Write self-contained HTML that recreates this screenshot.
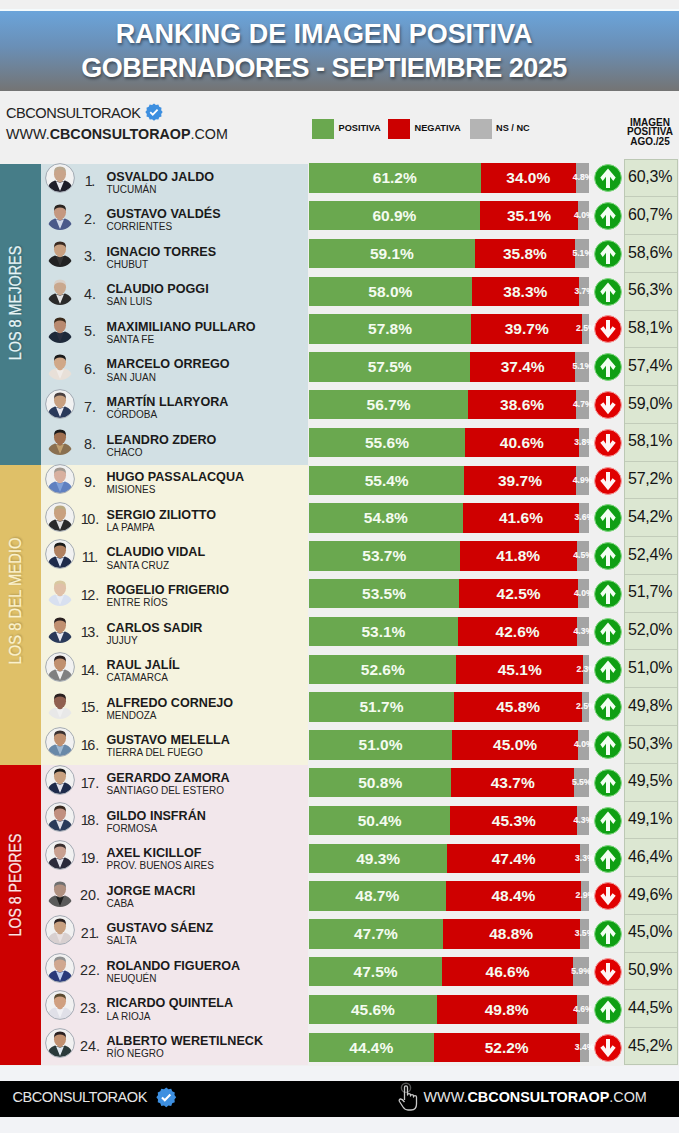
<!DOCTYPE html>
<html><head><meta charset="utf-8"><style>
*{margin:0;padding:0;box-sizing:border-box}
html,body{width:679px;height:1133px;overflow:hidden}
body{position:relative;background:#f0f0f0;font-family:"Liberation Sans",sans-serif}
.abs{position:absolute}
.hdr{position:absolute;left:0;top:11px;width:679px;height:80px;background:linear-gradient(#6ba4da 0%,#6a8fb6 45%,#747474 100%)}
.ttl{position:absolute;left:0;width:648px;text-align:center;color:#fff;font-weight:bold;font-size:27px;line-height:30px;white-space:nowrap;text-shadow:1px 2px 3px rgba(0,0,0,.45)}
.brand{position:absolute;left:6px;font-size:15px;color:#222;white-space:nowrap;line-height:18px}
.leg{position:absolute;top:118.5px;width:22px;height:20.5px}
.legt{position:absolute;top:122px;font-size:9.2px;font-weight:bold;color:#111;line-height:12px;white-space:nowrap}
.glabel{position:absolute;left:-84.5px;width:200px;height:20px;margin-top:-10px;font-size:16px;line-height:20px;text-align:center;white-space:nowrap;transform:rotate(-90deg);-webkit-text-stroke:0.25px currentColor;text-shadow:1px 1px 2px rgba(0,0,0,.25)}
.num{position:absolute;left:75px;width:30px;text-align:center;font-size:14.4px;color:#2a2a2a;line-height:16px}
.n1{letter-spacing:-1.3px}
.name{position:absolute;left:106.5px;font-size:12.6px;font-weight:bold;color:#1a1a1a;line-height:14px;white-space:nowrap}
.prov{position:absolute;left:106.5px;font-size:10px;color:#222;line-height:12px;white-space:nowrap}
.bar{height:29.6px;color:#f4fbf0;font-weight:bold;font-size:15.5px;line-height:29.6px;text-align:center;white-space:nowrap}
.small{width:30px;height:29.6px;line-height:29.6px;text-align:center;font-size:8.6px;font-weight:bold;color:rgba(255,255,255,.95);-webkit-text-stroke:0.2px rgba(255,255,255,.8)}
.cbox{position:absolute;left:624px;top:159.1px;width:53.5px;height:906.2px;background:#dce7d2;border:1px solid #bcc8b4}
.cline{left:625px;width:51.5px;height:1px;background:#c2ccba}
.cell{left:624px;width:53.5px;font-size:16px;letter-spacing:-0.25px;color:#141414;line-height:35.5px;padding-left:4px;white-space:nowrap}
.foot{position:absolute;left:0;top:1080.5px;width:679px;height:36.3px;background:#000}
</style></head><body>
<div class="abs" style="left:0;top:9.3px;width:679px;height:2px;background:#f4fbfd"></div>
<div class="hdr"></div>
<div class="ttl" style="top:18.5px;letter-spacing:-0.05px">RANKING DE IMAGEN POSITIVA</div>
<div class="ttl" style="top:52.5px;letter-spacing:-0.52px">GOBERNADORES - SEPTIEMBRE 2025</div>
<div class="brand" style="top:104px;font-size:14.6px;letter-spacing:-0.5px">CBCONSULTORAOK</div>
<svg class="abs" style="left:145px;top:103px" width="18" height="18" viewBox="0 0 24 24"><path fill="#3d8fe0" d="M12 0.5l2.6 2 3.2-.4 1.2 3 3 1.2-.4 3.2 2 2.6-2 2.6.4 3.2-3 1.2-1.2 3-3.2-.4-2.6 2-2.6-2-3.2.4-1.2-3-3-1.2.4-3.2-2-2.6 2-2.6-.4-3.2 3-1.2 1.2-3 3.2.4z"/><path d="M7 12.3l3.3 3.3 6.5-6.8" fill="none" stroke="#fff" stroke-width="2.4"/></svg>
<div class="brand" style="top:125px;font-size:14.3px">WWW.<b>CBCONSULTORAOP</b>.COM</div>
<div class="leg" style="left:312px;background:#6aa84f"></div><div class="legt" style="left:338.5px">POSITIVA</div>
<div class="leg" style="left:388px;background:#cc0000"></div><div class="legt" style="left:414.5px">NEGATIVA</div>
<div class="leg" style="left:470px;background:#b4b4b4"></div><div class="legt" style="left:496px">NS / NC</div>
<div class="abs" style="left:610px;top:117.5px;width:80px;text-align:center;font-size:10px;font-weight:bold;line-height:9.7px;color:#111">IMAGEN<br>POSITIVA<br>AGO./25</div>
<div class="cbox"></div>
<div class="abs" style="left:0;top:164px;width:41px;height:300.5px;background:#467d88"></div>
<div class="abs" style="left:41px;top:164px;width:266.7px;height:300.5px;background:#d2e0e4"></div>
<div class="glabel" style="top:302.8px;color:#e6f4f6;transform:rotate(-90deg) scaleX(0.902)">LOS 8 MEJORES</div>
<div class="abs" style="left:0;top:464.5px;width:41px;height:300.2px;background:#dfc068"></div>
<div class="abs" style="left:41px;top:464.5px;width:266.7px;height:300.2px;background:#f5f3df"></div>
<div class="glabel" style="top:600.8px;color:#fbf1cc;transform:rotate(-90deg) scaleX(0.926)">LOS 8 DEL MEDIO</div>
<div class="abs" style="left:0;top:764.7px;width:41px;height:300.8px;background:#cc0000"></div>
<div class="abs" style="left:41px;top:764.7px;width:266.7px;height:300.8px;background:#f2e7eb"></div>
<div class="glabel" style="top:884.9px;color:#fde6e6;transform:rotate(-90deg) scaleX(0.882)">LOS 8 PEORES</div>
<svg class="abs" style="left:45px;top:163.3px" width="30" height="30" viewBox="0 0 30 30"><defs><clipPath id="c0"><circle cx="15" cy="15" r="14"/></clipPath></defs><g clip-path="url(#c0)"><circle cx="15" cy="15" r="14" fill="#f1f1f1"/><rect x="12.5" y="14" width="5" height="6" fill="#c9a48a"/><path d="M1.5 31 Q2 19.5 10 17.5 L15 19.5 L20 17.5 Q28 19.5 28.5 31 Z" fill="#1e1e2a"/><path d="M11 18.2 L15 28 L19 18.2 L15 19.8 Z" fill="#e8e8ee"/><ellipse cx="15" cy="11.2" rx="6" ry="7" fill="#c9a48a"/><path d="M9 10 Q8.6 3.6 15 3.6 Q21.4 3.6 21 10 Q20 6.5 15 6.5 Q10 6.5 9 10 Z" fill="#b8a890"/></g><circle cx="15" cy="15" r="14.4" fill="none" stroke="#a4abb4" stroke-width="1"/></svg>
<div class="num" style="top:173.1px"><span class="n1">1</span>.</div>
<div class="name" style="top:169.5px">OSVALDO JALDO</div>
<div class="prov" style="top:183.6px">TUCUMÁN</div>
<div class="abs" style="top:163.1px;left:309px;width:280.4px;height:29.6px;background:#a4a4a4"></div>
<div class="abs" style="top:163.1px;left:309px;width:266.94px;height:29.6px;background:#cf0000"></div>
<div class="abs bar" style="top:163.1px;left:309px;width:171.6px;background:#6aa84f">61.2%</div>
<div class="abs bar" style="top:163.1px;left:480.6px;width:95.34px">34.0%</div>
<div class="abs small" style="top:163.1px;left:567.67px">4.8%</div>
<svg class="abs" style="left:594px;top:164.1px" width="28" height="28" viewBox="0 0 28 28"><circle cx="14" cy="14" r="13.4" fill="#0f9f14" stroke="#7fd77f" stroke-width="1"/><path d="M14 4.6 L21.7 13.5 L19.3 17 L16 12.8 L16 24.1 L12 24.1 L12 12.8 L8.7 17 L6.3 13.5 Z" fill="#f2fff2"/></svg>
<div class="abs cell" style="top:159.1px;height:37.76px">60,3%</div>
<svg class="abs" style="left:45px;top:200.89px" width="30" height="30" viewBox="0 0 30 30"><defs><clipPath id="c1"><circle cx="15" cy="15" r="14"/></clipPath></defs><g clip-path="url(#c1)"><rect x="12.5" y="14" width="5" height="6" fill="#c49880"/><path d="M1.5 31 Q2 19.5 10 17.5 L15 19.5 L20 17.5 Q28 19.5 28.5 31 Z" fill="#4a5a8a"/><path d="M11 18.2 L15 28 L19 18.2 L15 19.8 Z" fill="#d0d8e8"/><ellipse cx="15" cy="11.2" rx="6" ry="7" fill="#c49880"/><path d="M9 10 Q8.6 3.6 15 3.6 Q21.4 3.6 21 10 Q20 6.5 15 6.5 Q10 6.5 9 10 Z" fill="#2a2420"/></g></svg>
<div class="num" style="top:210.69px">2.</div>
<div class="name" style="top:207.09px">GUSTAVO VALDÉS</div>
<div class="prov" style="top:221.19px">CORRIENTES</div>
<div class="abs" style="top:200.9px;left:309px;width:280.4px;height:29.6px;background:#a4a4a4"></div>
<div class="abs" style="top:200.9px;left:309px;width:269.18px;height:29.6px;background:#cf0000"></div>
<div class="abs bar" style="top:200.9px;left:309px;width:170.76px;background:#6aa84f">60.9%</div>
<div class="abs bar" style="top:200.9px;left:479.76px;width:98.42px">35.1%</div>
<div class="abs small" style="top:200.9px;left:568.79px">4.0%</div>
<svg class="abs" style="left:594px;top:201.9px" width="28" height="28" viewBox="0 0 28 28"><circle cx="14" cy="14" r="13.4" fill="#0f9f14" stroke="#7fd77f" stroke-width="1"/><path d="M14 4.6 L21.7 13.5 L19.3 17 L16 12.8 L16 24.1 L12 24.1 L12 12.8 L8.7 17 L6.3 13.5 Z" fill="#f2fff2"/></svg>
<div class="abs cell" style="top:196.86px;height:37.76px">60,7%</div>
<div class="abs cline" style="top:196.36px"></div>
<svg class="abs" style="left:45px;top:238.48px" width="30" height="30" viewBox="0 0 30 30"><defs><clipPath id="c2"><circle cx="15" cy="15" r="14"/></clipPath></defs><g clip-path="url(#c2)"><rect x="12.5" y="14" width="5" height="6" fill="#c8a080"/><path d="M1.5 31 Q2 19.5 10 17.5 L15 19.5 L20 17.5 Q28 19.5 28.5 31 Z" fill="#222222"/><path d="M11 18.2 L15 28 L19 18.2 L15 19.8 Z" fill="#333333"/><ellipse cx="15" cy="11.2" rx="6" ry="7" fill="#c8a080"/><path d="M9 10 Q8.6 3.6 15 3.6 Q21.4 3.6 21 10 Q20 6.5 15 6.5 Q10 6.5 9 10 Z" fill="#3a2a20"/></g></svg>
<div class="num" style="top:248.28px">3.</div>
<div class="name" style="top:244.68px">IGNACIO TORRES</div>
<div class="prov" style="top:258.78px">CHUBUT</div>
<div class="abs" style="top:238.7px;left:309px;width:280.4px;height:29.6px;background:#a4a4a4"></div>
<div class="abs" style="top:238.7px;left:309px;width:266.1px;height:29.6px;background:#cf0000"></div>
<div class="abs bar" style="top:238.7px;left:309px;width:165.72px;background:#6aa84f">59.1%</div>
<div class="abs bar" style="top:238.7px;left:474.72px;width:100.38px">35.8%</div>
<div class="abs small" style="top:238.7px;left:567.25px">5.1%</div>
<svg class="abs" style="left:594px;top:239.7px" width="28" height="28" viewBox="0 0 28 28"><circle cx="14" cy="14" r="13.4" fill="#0f9f14" stroke="#7fd77f" stroke-width="1"/><path d="M14 4.6 L21.7 13.5 L19.3 17 L16 12.8 L16 24.1 L12 24.1 L12 12.8 L8.7 17 L6.3 13.5 Z" fill="#f2fff2"/></svg>
<div class="abs cell" style="top:234.62px;height:37.76px">58,6%</div>
<div class="abs cline" style="top:234.12px"></div>
<svg class="abs" style="left:45px;top:276.07px" width="30" height="30" viewBox="0 0 30 30"><defs><clipPath id="c3"><circle cx="15" cy="15" r="14"/></clipPath></defs><g clip-path="url(#c3)"><rect x="12.5" y="14" width="5" height="6" fill="#c9a88e"/><path d="M1.5 31 Q2 19.5 10 17.5 L15 19.5 L20 17.5 Q28 19.5 28.5 31 Z" fill="#2a2a2a"/><path d="M11 18.2 L15 28 L19 18.2 L15 19.8 Z" fill="#e0e0e0"/><ellipse cx="15" cy="11.2" rx="6" ry="7" fill="#c9a88e"/><path d="M9 10 Q8.6 3.6 15 3.6 Q21.4 3.6 21 10 Q20 6.5 15 6.5 Q10 6.5 9 10 Z" fill="#d8d0c8"/></g></svg>
<div class="num" style="top:285.87px">4.</div>
<div class="name" style="top:282.27px">CLAUDIO POGGI</div>
<div class="prov" style="top:296.37px">SAN LUIS</div>
<div class="abs" style="top:276.5px;left:309px;width:280.4px;height:29.6px;background:#a4a4a4"></div>
<div class="abs" style="top:276.5px;left:309px;width:270.03px;height:29.6px;background:#cf0000"></div>
<div class="abs bar" style="top:276.5px;left:309px;width:162.63px;background:#6aa84f">58.0%</div>
<div class="abs bar" style="top:276.5px;left:471.63px;width:107.39px">38.3%</div>
<div class="abs small" style="top:276.5px;left:569.21px">3.7%</div>
<svg class="abs" style="left:594px;top:277.5px" width="28" height="28" viewBox="0 0 28 28"><circle cx="14" cy="14" r="13.4" fill="#0f9f14" stroke="#7fd77f" stroke-width="1"/><path d="M14 4.6 L21.7 13.5 L19.3 17 L16 12.8 L16 24.1 L12 24.1 L12 12.8 L8.7 17 L6.3 13.5 Z" fill="#f2fff2"/></svg>
<div class="abs cell" style="top:272.38px;height:37.76px">56,3%</div>
<div class="abs cline" style="top:271.88px"></div>
<svg class="abs" style="left:45px;top:313.66px" width="30" height="30" viewBox="0 0 30 30"><defs><clipPath id="c4"><circle cx="15" cy="15" r="14"/></clipPath></defs><g clip-path="url(#c4)"><rect x="12.5" y="14" width="5" height="6" fill="#b88a70"/><path d="M1.5 31 Q2 19.5 10 17.5 L15 19.5 L20 17.5 Q28 19.5 28.5 31 Z" fill="#1e2a3a"/><path d="M11 18.2 L15 28 L19 18.2 L15 19.8 Z" fill="#2a3040"/><ellipse cx="15" cy="11.2" rx="6" ry="7" fill="#b88a70"/><path d="M9 10 Q8.6 3.6 15 3.6 Q21.4 3.6 21 10 Q20 6.5 15 6.5 Q10 6.5 9 10 Z" fill="#3a2a1a"/></g></svg>
<div class="num" style="top:323.46px">5.</div>
<div class="name" style="top:319.86px">MAXIMILIANO PULLARO</div>
<div class="prov" style="top:333.96px">SANTA FE</div>
<div class="abs" style="top:314.3px;left:309px;width:280.4px;height:29.6px;background:#a4a4a4"></div>
<div class="abs" style="top:314.3px;left:309px;width:273.39px;height:29.6px;background:#cf0000"></div>
<div class="abs bar" style="top:314.3px;left:309px;width:162.07px;background:#6aa84f">57.8%</div>
<div class="abs bar" style="top:314.3px;left:471.07px;width:111.32px">39.7%</div>
<div class="abs small" style="top:314.3px;left:570.89px">2.5%</div>
<svg class="abs" style="left:594px;top:315.3px" width="28" height="28" viewBox="0 0 28 28"><circle cx="14" cy="14" r="13.4" fill="#e00000" stroke="#f59a9a" stroke-width="1"/><path d="M14 23.3 L21.7 13.8 L18.6 11.2 L16 14.8 L16 5 L12 5 L12 14.8 L9.4 11.2 L6.3 13.8 Z" fill="#fff4f4"/></svg>
<div class="abs cell" style="top:310.14px;height:37.76px">58,1%</div>
<div class="abs cline" style="top:309.64px"></div>
<svg class="abs" style="left:45px;top:351.25px" width="30" height="30" viewBox="0 0 30 30"><defs><clipPath id="c5"><circle cx="15" cy="15" r="14"/></clipPath></defs><g clip-path="url(#c5)"><rect x="12.5" y="14" width="5" height="6" fill="#d0a888"/><path d="M1.5 31 Q2 19.5 10 17.5 L15 19.5 L20 17.5 Q28 19.5 28.5 31 Z" fill="#e8e0d8"/><path d="M11 18.2 L15 28 L19 18.2 L15 19.8 Z" fill="#f0ece8"/><ellipse cx="15" cy="11.2" rx="6" ry="7" fill="#d0a888"/><path d="M9 10 Q8.6 3.6 15 3.6 Q21.4 3.6 21 10 Q20 6.5 15 6.5 Q10 6.5 9 10 Z" fill="#1a1a1a"/></g></svg>
<div class="num" style="top:361.05px">6.</div>
<div class="name" style="top:357.45px">MARCELO ORREGO</div>
<div class="prov" style="top:371.55px">SAN JUAN</div>
<div class="abs" style="top:352.1px;left:309px;width:280.4px;height:29.6px;background:#a4a4a4"></div>
<div class="abs" style="top:352.1px;left:309px;width:266.1px;height:29.6px;background:#cf0000"></div>
<div class="abs bar" style="top:352.1px;left:309px;width:161.23px;background:#6aa84f">57.5%</div>
<div class="abs bar" style="top:352.1px;left:470.23px;width:104.87px">37.4%</div>
<div class="abs small" style="top:352.1px;left:567.25px">5.1%</div>
<svg class="abs" style="left:594px;top:353.1px" width="28" height="28" viewBox="0 0 28 28"><circle cx="14" cy="14" r="13.4" fill="#0f9f14" stroke="#7fd77f" stroke-width="1"/><path d="M14 4.6 L21.7 13.5 L19.3 17 L16 12.8 L16 24.1 L12 24.1 L12 12.8 L8.7 17 L6.3 13.5 Z" fill="#f2fff2"/></svg>
<div class="abs cell" style="top:347.9px;height:37.76px">57,4%</div>
<div class="abs cline" style="top:347.4px"></div>
<svg class="abs" style="left:45px;top:388.84px" width="30" height="30" viewBox="0 0 30 30"><defs><clipPath id="c6"><circle cx="15" cy="15" r="14"/></clipPath></defs><g clip-path="url(#c6)"><circle cx="15" cy="15" r="14" fill="#f1f1f1"/><rect x="12.5" y="14" width="5" height="6" fill="#c8a080"/><path d="M1.5 31 Q2 19.5 10 17.5 L15 19.5 L20 17.5 Q28 19.5 28.5 31 Z" fill="#2a3a5a"/><path d="M11 18.2 L15 28 L19 18.2 L15 19.8 Z" fill="#e8e8f0"/><ellipse cx="15" cy="11.2" rx="6" ry="7" fill="#c8a080"/><path d="M9 10 Q8.6 3.6 15 3.6 Q21.4 3.6 21 10 Q20 6.5 15 6.5 Q10 6.5 9 10 Z" fill="#4a4040"/></g><circle cx="15" cy="15" r="14.4" fill="none" stroke="#a4abb4" stroke-width="1"/></svg>
<div class="num" style="top:398.64px">7.</div>
<div class="name" style="top:395.04px">MARTÍN LLARYORA</div>
<div class="prov" style="top:409.14px">CÓRDOBA</div>
<div class="abs" style="top:389.9px;left:309px;width:280.4px;height:29.6px;background:#a4a4a4"></div>
<div class="abs" style="top:389.9px;left:309px;width:267.22px;height:29.6px;background:#cf0000"></div>
<div class="abs bar" style="top:389.9px;left:309px;width:158.99px;background:#6aa84f">56.7%</div>
<div class="abs bar" style="top:389.9px;left:467.99px;width:108.23px">38.6%</div>
<div class="abs small" style="top:389.9px;left:567.81px">4.7%</div>
<svg class="abs" style="left:594px;top:390.9px" width="28" height="28" viewBox="0 0 28 28"><circle cx="14" cy="14" r="13.4" fill="#e00000" stroke="#f59a9a" stroke-width="1"/><path d="M14 23.3 L21.7 13.8 L18.6 11.2 L16 14.8 L16 5 L12 5 L12 14.8 L9.4 11.2 L6.3 13.8 Z" fill="#fff4f4"/></svg>
<div class="abs cell" style="top:385.66px;height:37.76px">59,0%</div>
<div class="abs cline" style="top:385.16px"></div>
<svg class="abs" style="left:45px;top:426.43px" width="30" height="30" viewBox="0 0 30 30"><defs><clipPath id="c7"><circle cx="15" cy="15" r="14"/></clipPath></defs><g clip-path="url(#c7)"><rect x="12.5" y="14" width="5" height="6" fill="#a07050"/><path d="M1.5 31 Q2 19.5 10 17.5 L15 19.5 L20 17.5 Q28 19.5 28.5 31 Z" fill="#8a7050"/><path d="M11 18.2 L15 28 L19 18.2 L15 19.8 Z" fill="#c0a070"/><ellipse cx="15" cy="11.2" rx="6" ry="7" fill="#a07050"/><path d="M9 10 Q8.6 3.6 15 3.6 Q21.4 3.6 21 10 Q20 6.5 15 6.5 Q10 6.5 9 10 Z" fill="#1a1a1a"/></g></svg>
<div class="num" style="top:436.23px">8.</div>
<div class="name" style="top:432.63px">LEANDRO ZDERO</div>
<div class="prov" style="top:446.73px">CHACO</div>
<div class="abs" style="top:427.7px;left:309px;width:280.4px;height:29.6px;background:#a4a4a4"></div>
<div class="abs" style="top:427.7px;left:309px;width:269.74px;height:29.6px;background:#cf0000"></div>
<div class="abs bar" style="top:427.7px;left:309px;width:155.9px;background:#6aa84f">55.6%</div>
<div class="abs bar" style="top:427.7px;left:464.9px;width:113.84px">40.6%</div>
<div class="abs small" style="top:427.7px;left:569.07px">3.8%</div>
<svg class="abs" style="left:594px;top:428.7px" width="28" height="28" viewBox="0 0 28 28"><circle cx="14" cy="14" r="13.4" fill="#e00000" stroke="#f59a9a" stroke-width="1"/><path d="M14 23.3 L21.7 13.8 L18.6 11.2 L16 14.8 L16 5 L12 5 L12 14.8 L9.4 11.2 L6.3 13.8 Z" fill="#fff4f4"/></svg>
<div class="abs cell" style="top:423.42px;height:37.76px">58,1%</div>
<div class="abs cline" style="top:422.92px"></div>
<svg class="abs" style="left:45px;top:464.02px" width="30" height="30" viewBox="0 0 30 30"><defs><clipPath id="c8"><circle cx="15" cy="15" r="14"/></clipPath></defs><g clip-path="url(#c8)"><circle cx="15" cy="15" r="14" fill="#f1f1f1"/><rect x="12.5" y="14" width="5" height="6" fill="#d8b0a0"/><path d="M1.5 31 Q2 19.5 10 17.5 L15 19.5 L20 17.5 Q28 19.5 28.5 31 Z" fill="#6080c0"/><path d="M11 18.2 L15 28 L19 18.2 L15 19.8 Z" fill="#80a0d8"/><ellipse cx="15" cy="11.2" rx="6" ry="7" fill="#d8b0a0"/><path d="M9 10 Q8.6 3.6 15 3.6 Q21.4 3.6 21 10 Q20 6.5 15 6.5 Q10 6.5 9 10 Z" fill="#a09890"/></g><circle cx="15" cy="15" r="14.4" fill="none" stroke="#a4abb4" stroke-width="1"/></svg>
<div class="num" style="top:473.82px">9.</div>
<div class="name" style="top:470.22px">HUGO PASSALACQUA</div>
<div class="prov" style="top:484.32px">MISIONES</div>
<div class="abs" style="top:465.5px;left:309px;width:280.4px;height:29.6px;background:#a4a4a4"></div>
<div class="abs" style="top:465.5px;left:309px;width:266.66px;height:29.6px;background:#cf0000"></div>
<div class="abs bar" style="top:465.5px;left:309px;width:155.34px;background:#6aa84f">55.4%</div>
<div class="abs bar" style="top:465.5px;left:464.34px;width:111.32px">39.7%</div>
<div class="abs small" style="top:465.5px;left:567.53px">4.9%</div>
<svg class="abs" style="left:594px;top:466.5px" width="28" height="28" viewBox="0 0 28 28"><circle cx="14" cy="14" r="13.4" fill="#e00000" stroke="#f59a9a" stroke-width="1"/><path d="M14 23.3 L21.7 13.8 L18.6 11.2 L16 14.8 L16 5 L12 5 L12 14.8 L9.4 11.2 L6.3 13.8 Z" fill="#fff4f4"/></svg>
<div class="abs cell" style="top:461.18px;height:37.76px">57,2%</div>
<div class="abs cline" style="top:460.68px"></div>
<svg class="abs" style="left:45px;top:501.61px" width="30" height="30" viewBox="0 0 30 30"><defs><clipPath id="c9"><circle cx="15" cy="15" r="14"/></clipPath></defs><g clip-path="url(#c9)"><circle cx="15" cy="15" r="14" fill="#f1f1f1"/><rect x="12.5" y="14" width="5" height="6" fill="#c8a080"/><path d="M1.5 31 Q2 19.5 10 17.5 L15 19.5 L20 17.5 Q28 19.5 28.5 31 Z" fill="#2a2a2a"/><path d="M11 18.2 L15 28 L19 18.2 L15 19.8 Z" fill="#e0e0e0"/><ellipse cx="15" cy="11.2" rx="6" ry="7" fill="#c8a080"/><path d="M9 10 Q8.6 3.6 15 3.6 Q21.4 3.6 21 10 Q20 6.5 15 6.5 Q10 6.5 9 10 Z" fill="#b8a880"/></g><circle cx="15" cy="15" r="14.4" fill="none" stroke="#a4abb4" stroke-width="1"/></svg>
<div class="num" style="top:511.41px"><span class="n1">1</span>0.</div>
<div class="name" style="top:507.81px">SERGIO ZILIOTTO</div>
<div class="prov" style="top:521.91px">LA PAMPA</div>
<div class="abs" style="top:503.3px;left:309px;width:280.4px;height:29.6px;background:#a4a4a4"></div>
<div class="abs" style="top:503.3px;left:309px;width:270.31px;height:29.6px;background:#cf0000"></div>
<div class="abs bar" style="top:503.3px;left:309px;width:153.66px;background:#6aa84f">54.8%</div>
<div class="abs bar" style="top:503.3px;left:462.66px;width:116.65px">41.6%</div>
<div class="abs small" style="top:503.3px;left:569.35px">3.6%</div>
<svg class="abs" style="left:594px;top:504.3px" width="28" height="28" viewBox="0 0 28 28"><circle cx="14" cy="14" r="13.4" fill="#0f9f14" stroke="#7fd77f" stroke-width="1"/><path d="M14 4.6 L21.7 13.5 L19.3 17 L16 12.8 L16 24.1 L12 24.1 L12 12.8 L8.7 17 L6.3 13.5 Z" fill="#f2fff2"/></svg>
<div class="abs cell" style="top:498.94px;height:37.76px">54,2%</div>
<div class="abs cline" style="top:498.44px"></div>
<svg class="abs" style="left:45px;top:539.2px" width="30" height="30" viewBox="0 0 30 30"><defs><clipPath id="c10"><circle cx="15" cy="15" r="14"/></clipPath></defs><g clip-path="url(#c10)"><circle cx="15" cy="15" r="14" fill="#f1f1f1"/><rect x="12.5" y="14" width="5" height="6" fill="#b08060"/><path d="M1.5 31 Q2 19.5 10 17.5 L15 19.5 L20 17.5 Q28 19.5 28.5 31 Z" fill="#1e2a4a"/><path d="M11 18.2 L15 28 L19 18.2 L15 19.8 Z" fill="#d8e0f0"/><ellipse cx="15" cy="11.2" rx="6" ry="7" fill="#b08060"/><path d="M9 10 Q8.6 3.6 15 3.6 Q21.4 3.6 21 10 Q20 6.5 15 6.5 Q10 6.5 9 10 Z" fill="#1a1a1a"/></g><circle cx="15" cy="15" r="14.4" fill="none" stroke="#a4abb4" stroke-width="1"/></svg>
<div class="num" style="top:549px"><span class="n1">1</span><span class="n1">1</span>.</div>
<div class="name" style="top:545.4px">CLAUDIO VIDAL</div>
<div class="prov" style="top:559.5px">SANTA CRUZ</div>
<div class="abs" style="top:541.1px;left:309px;width:280.4px;height:29.6px;background:#a4a4a4"></div>
<div class="abs" style="top:541.1px;left:309px;width:267.78px;height:29.6px;background:#cf0000"></div>
<div class="abs bar" style="top:541.1px;left:309px;width:150.57px;background:#6aa84f">53.7%</div>
<div class="abs bar" style="top:541.1px;left:459.57px;width:117.21px">41.8%</div>
<div class="abs small" style="top:541.1px;left:568.09px">4.5%</div>
<svg class="abs" style="left:594px;top:542.1px" width="28" height="28" viewBox="0 0 28 28"><circle cx="14" cy="14" r="13.4" fill="#0f9f14" stroke="#7fd77f" stroke-width="1"/><path d="M14 4.6 L21.7 13.5 L19.3 17 L16 12.8 L16 24.1 L12 24.1 L12 12.8 L8.7 17 L6.3 13.5 Z" fill="#f2fff2"/></svg>
<div class="abs cell" style="top:536.7px;height:37.76px">52,4%</div>
<div class="abs cline" style="top:536.2px"></div>
<svg class="abs" style="left:45px;top:576.79px" width="30" height="30" viewBox="0 0 30 30"><defs><clipPath id="c11"><circle cx="15" cy="15" r="14"/></clipPath></defs><g clip-path="url(#c11)"><rect x="12.5" y="14" width="5" height="6" fill="#e0c0a8"/><path d="M1.5 31 Q2 19.5 10 17.5 L15 19.5 L20 17.5 Q28 19.5 28.5 31 Z" fill="#d8e0f0"/><path d="M11 18.2 L15 28 L19 18.2 L15 19.8 Z" fill="#e8ecf4"/><ellipse cx="15" cy="11.2" rx="6" ry="7" fill="#e0c0a8"/><path d="M9 10 Q8.6 3.6 15 3.6 Q21.4 3.6 21 10 Q20 6.5 15 6.5 Q10 6.5 9 10 Z" fill="#d8c8a0"/></g></svg>
<div class="num" style="top:586.59px"><span class="n1">1</span>2.</div>
<div class="name" style="top:582.99px">ROGELIO FRIGERIO</div>
<div class="prov" style="top:597.09px">ENTRE RÍOS</div>
<div class="abs" style="top:578.9px;left:309px;width:280.4px;height:29.6px;background:#a4a4a4"></div>
<div class="abs" style="top:578.9px;left:309px;width:269.18px;height:29.6px;background:#cf0000"></div>
<div class="abs bar" style="top:578.9px;left:309px;width:150.01px;background:#6aa84f">53.5%</div>
<div class="abs bar" style="top:578.9px;left:459.01px;width:119.17px">42.5%</div>
<div class="abs small" style="top:578.9px;left:568.79px">4.0%</div>
<svg class="abs" style="left:594px;top:579.9px" width="28" height="28" viewBox="0 0 28 28"><circle cx="14" cy="14" r="13.4" fill="#0f9f14" stroke="#7fd77f" stroke-width="1"/><path d="M14 4.6 L21.7 13.5 L19.3 17 L16 12.8 L16 24.1 L12 24.1 L12 12.8 L8.7 17 L6.3 13.5 Z" fill="#f2fff2"/></svg>
<div class="abs cell" style="top:574.46px;height:37.76px">51,7%</div>
<div class="abs cline" style="top:573.96px"></div>
<svg class="abs" style="left:45px;top:614.38px" width="30" height="30" viewBox="0 0 30 30"><defs><clipPath id="c12"><circle cx="15" cy="15" r="14"/></clipPath></defs><g clip-path="url(#c12)"><rect x="12.5" y="14" width="5" height="6" fill="#c09070"/><path d="M1.5 31 Q2 19.5 10 17.5 L15 19.5 L20 17.5 Q28 19.5 28.5 31 Z" fill="#2a3a5a"/><path d="M11 18.2 L15 28 L19 18.2 L15 19.8 Z" fill="#e8e8f0"/><ellipse cx="15" cy="11.2" rx="6" ry="7" fill="#c09070"/><path d="M9 10 Q8.6 3.6 15 3.6 Q21.4 3.6 21 10 Q20 6.5 15 6.5 Q10 6.5 9 10 Z" fill="#2a2020"/></g></svg>
<div class="num" style="top:624.18px"><span class="n1">1</span>3.</div>
<div class="name" style="top:620.58px">CARLOS SADIR</div>
<div class="prov" style="top:634.68px">JUJUY</div>
<div class="abs" style="top:616.7px;left:309px;width:280.4px;height:29.6px;background:#a4a4a4"></div>
<div class="abs" style="top:616.7px;left:309px;width:268.34px;height:29.6px;background:#cf0000"></div>
<div class="abs bar" style="top:616.7px;left:309px;width:148.89px;background:#6aa84f">53.1%</div>
<div class="abs bar" style="top:616.7px;left:457.89px;width:119.45px">42.6%</div>
<div class="abs small" style="top:616.7px;left:568.37px">4.3%</div>
<svg class="abs" style="left:594px;top:617.7px" width="28" height="28" viewBox="0 0 28 28"><circle cx="14" cy="14" r="13.4" fill="#0f9f14" stroke="#7fd77f" stroke-width="1"/><path d="M14 4.6 L21.7 13.5 L19.3 17 L16 12.8 L16 24.1 L12 24.1 L12 12.8 L8.7 17 L6.3 13.5 Z" fill="#f2fff2"/></svg>
<div class="abs cell" style="top:612.22px;height:37.76px">52,0%</div>
<div class="abs cline" style="top:611.72px"></div>
<svg class="abs" style="left:45px;top:651.97px" width="30" height="30" viewBox="0 0 30 30"><defs><clipPath id="c13"><circle cx="15" cy="15" r="14"/></clipPath></defs><g clip-path="url(#c13)"><circle cx="15" cy="15" r="14" fill="#f1f1f1"/><rect x="12.5" y="14" width="5" height="6" fill="#c09070"/><path d="M1.5 31 Q2 19.5 10 17.5 L15 19.5 L20 17.5 Q28 19.5 28.5 31 Z" fill="#808080"/><path d="M11 18.2 L15 28 L19 18.2 L15 19.8 Z" fill="#f0f0f0"/><ellipse cx="15" cy="11.2" rx="6" ry="7" fill="#c09070"/><path d="M9 10 Q8.6 3.6 15 3.6 Q21.4 3.6 21 10 Q20 6.5 15 6.5 Q10 6.5 9 10 Z" fill="#2a2020"/></g><circle cx="15" cy="15" r="14.4" fill="none" stroke="#a4abb4" stroke-width="1"/></svg>
<div class="num" style="top:661.77px"><span class="n1">1</span>4.</div>
<div class="name" style="top:658.17px">RAUL JALÍL</div>
<div class="prov" style="top:672.27px">CATAMARCA</div>
<div class="abs" style="top:654.5px;left:309px;width:280.4px;height:29.6px;background:#a4a4a4"></div>
<div class="abs" style="top:654.5px;left:309px;width:273.95px;height:29.6px;background:#cf0000"></div>
<div class="abs bar" style="top:654.5px;left:309px;width:147.49px;background:#6aa84f">52.6%</div>
<div class="abs bar" style="top:654.5px;left:456.49px;width:126.46px">45.1%</div>
<div class="abs small" style="top:654.5px;left:571.18px">2.3%</div>
<svg class="abs" style="left:594px;top:655.5px" width="28" height="28" viewBox="0 0 28 28"><circle cx="14" cy="14" r="13.4" fill="#0f9f14" stroke="#7fd77f" stroke-width="1"/><path d="M14 4.6 L21.7 13.5 L19.3 17 L16 12.8 L16 24.1 L12 24.1 L12 12.8 L8.7 17 L6.3 13.5 Z" fill="#f2fff2"/></svg>
<div class="abs cell" style="top:649.98px;height:37.76px">51,0%</div>
<div class="abs cline" style="top:649.48px"></div>
<svg class="abs" style="left:45px;top:689.56px" width="30" height="30" viewBox="0 0 30 30"><defs><clipPath id="c14"><circle cx="15" cy="15" r="14"/></clipPath></defs><g clip-path="url(#c14)"><rect x="12.5" y="14" width="5" height="6" fill="#906050"/><path d="M1.5 31 Q2 19.5 10 17.5 L15 19.5 L20 17.5 Q28 19.5 28.5 31 Z" fill="#e8e8e8"/><path d="M11 18.2 L15 28 L19 18.2 L15 19.8 Z" fill="#f0f0f0"/><ellipse cx="15" cy="11.2" rx="6" ry="7" fill="#906050"/><path d="M9 10 Q8.6 3.6 15 3.6 Q21.4 3.6 21 10 Q20 6.5 15 6.5 Q10 6.5 9 10 Z" fill="#2a2020"/></g></svg>
<div class="num" style="top:699.36px"><span class="n1">1</span>5.</div>
<div class="name" style="top:695.76px">ALFREDO CORNEJO</div>
<div class="prov" style="top:709.86px">MENDOZA</div>
<div class="abs" style="top:692.3px;left:309px;width:280.4px;height:29.6px;background:#a4a4a4"></div>
<div class="abs" style="top:692.3px;left:309px;width:273.39px;height:29.6px;background:#cf0000"></div>
<div class="abs bar" style="top:692.3px;left:309px;width:144.97px;background:#6aa84f">51.7%</div>
<div class="abs bar" style="top:692.3px;left:453.97px;width:128.42px">45.8%</div>
<div class="abs small" style="top:692.3px;left:570.89px">2.5%</div>
<svg class="abs" style="left:594px;top:693.3px" width="28" height="28" viewBox="0 0 28 28"><circle cx="14" cy="14" r="13.4" fill="#0f9f14" stroke="#7fd77f" stroke-width="1"/><path d="M14 4.6 L21.7 13.5 L19.3 17 L16 12.8 L16 24.1 L12 24.1 L12 12.8 L8.7 17 L6.3 13.5 Z" fill="#f2fff2"/></svg>
<div class="abs cell" style="top:687.74px;height:37.76px">49,8%</div>
<div class="abs cline" style="top:687.24px"></div>
<svg class="abs" style="left:45px;top:727.15px" width="30" height="30" viewBox="0 0 30 30"><defs><clipPath id="c15"><circle cx="15" cy="15" r="14"/></clipPath></defs><g clip-path="url(#c15)"><circle cx="15" cy="15" r="14" fill="#f1f1f1"/><rect x="12.5" y="14" width="5" height="6" fill="#c09070"/><path d="M1.5 31 Q2 19.5 10 17.5 L15 19.5 L20 17.5 Q28 19.5 28.5 31 Z" fill="#6888a8"/><path d="M11 18.2 L15 28 L19 18.2 L15 19.8 Z" fill="#a0b8d0"/><ellipse cx="15" cy="11.2" rx="6" ry="7" fill="#c09070"/><path d="M9 10 Q8.6 3.6 15 3.6 Q21.4 3.6 21 10 Q20 6.5 15 6.5 Q10 6.5 9 10 Z" fill="#3a3030"/></g><circle cx="15" cy="15" r="14.4" fill="none" stroke="#a4abb4" stroke-width="1"/></svg>
<div class="num" style="top:736.95px"><span class="n1">1</span>6.</div>
<div class="name" style="top:733.35px">GUSTAVO MELELLA</div>
<div class="prov" style="top:747.45px">TIERRA DEL FUEGO</div>
<div class="abs" style="top:730.1px;left:309px;width:280.4px;height:29.6px;background:#a4a4a4"></div>
<div class="abs" style="top:730.1px;left:309px;width:269.18px;height:29.6px;background:#cf0000"></div>
<div class="abs bar" style="top:730.1px;left:309px;width:143px;background:#6aa84f">51.0%</div>
<div class="abs bar" style="top:730.1px;left:452px;width:126.18px">45.0%</div>
<div class="abs small" style="top:730.1px;left:568.79px">4.0%</div>
<svg class="abs" style="left:594px;top:731.1px" width="28" height="28" viewBox="0 0 28 28"><circle cx="14" cy="14" r="13.4" fill="#0f9f14" stroke="#7fd77f" stroke-width="1"/><path d="M14 4.6 L21.7 13.5 L19.3 17 L16 12.8 L16 24.1 L12 24.1 L12 12.8 L8.7 17 L6.3 13.5 Z" fill="#f2fff2"/></svg>
<div class="abs cell" style="top:725.5px;height:37.76px">50,3%</div>
<div class="abs cline" style="top:725px"></div>
<svg class="abs" style="left:45px;top:764.74px" width="30" height="30" viewBox="0 0 30 30"><defs><clipPath id="c16"><circle cx="15" cy="15" r="14"/></clipPath></defs><g clip-path="url(#c16)"><circle cx="15" cy="15" r="14" fill="#f1f1f1"/><rect x="12.5" y="14" width="5" height="6" fill="#c8a080"/><path d="M1.5 31 Q2 19.5 10 17.5 L15 19.5 L20 17.5 Q28 19.5 28.5 31 Z" fill="#1e2a4a"/><path d="M11 18.2 L15 28 L19 18.2 L15 19.8 Z" fill="#e0e0e8"/><ellipse cx="15" cy="11.2" rx="6" ry="7" fill="#c8a080"/><path d="M9 10 Q8.6 3.6 15 3.6 Q21.4 3.6 21 10 Q20 6.5 15 6.5 Q10 6.5 9 10 Z" fill="#1a1a1a"/></g><circle cx="15" cy="15" r="14.4" fill="none" stroke="#a4abb4" stroke-width="1"/></svg>
<div class="num" style="top:774.54px"><span class="n1">1</span>7.</div>
<div class="name" style="top:770.94px">GERARDO ZAMORA</div>
<div class="prov" style="top:785.04px">SANTIAGO DEL ESTERO</div>
<div class="abs" style="top:767.9px;left:309px;width:280.4px;height:29.6px;background:#a4a4a4"></div>
<div class="abs" style="top:767.9px;left:309px;width:264.98px;height:29.6px;background:#cf0000"></div>
<div class="abs bar" style="top:767.9px;left:309px;width:142.44px;background:#6aa84f">50.8%</div>
<div class="abs bar" style="top:767.9px;left:451.44px;width:122.53px">43.7%</div>
<div class="abs small" style="top:767.9px;left:566.69px">5.5%</div>
<svg class="abs" style="left:594px;top:768.9px" width="28" height="28" viewBox="0 0 28 28"><circle cx="14" cy="14" r="13.4" fill="#0f9f14" stroke="#7fd77f" stroke-width="1"/><path d="M14 4.6 L21.7 13.5 L19.3 17 L16 12.8 L16 24.1 L12 24.1 L12 12.8 L8.7 17 L6.3 13.5 Z" fill="#f2fff2"/></svg>
<div class="abs cell" style="top:763.26px;height:37.76px">49,5%</div>
<div class="abs cline" style="top:762.76px"></div>
<svg class="abs" style="left:45px;top:802.33px" width="30" height="30" viewBox="0 0 30 30"><defs><clipPath id="c17"><circle cx="15" cy="15" r="14"/></clipPath></defs><g clip-path="url(#c17)"><circle cx="15" cy="15" r="14" fill="#f1f1f1"/><rect x="12.5" y="14" width="5" height="6" fill="#c09080"/><path d="M1.5 31 Q2 19.5 10 17.5 L15 19.5 L20 17.5 Q28 19.5 28.5 31 Z" fill="#2a3a5a"/><path d="M11 18.2 L15 28 L19 18.2 L15 19.8 Z" fill="#e0e0e8"/><ellipse cx="15" cy="11.2" rx="6" ry="7" fill="#c09080"/><path d="M9 10 Q8.6 3.6 15 3.6 Q21.4 3.6 21 10 Q20 6.5 15 6.5 Q10 6.5 9 10 Z" fill="#3a2a20"/></g><circle cx="15" cy="15" r="14.4" fill="none" stroke="#a4abb4" stroke-width="1"/></svg>
<div class="num" style="top:812.13px"><span class="n1">1</span>8.</div>
<div class="name" style="top:808.53px">GILDO INSFRÁN</div>
<div class="prov" style="top:822.63px">FORMOSA</div>
<div class="abs" style="top:805.7px;left:309px;width:280.4px;height:29.6px;background:#a4a4a4"></div>
<div class="abs" style="top:805.7px;left:309px;width:268.34px;height:29.6px;background:#cf0000"></div>
<div class="abs bar" style="top:805.7px;left:309px;width:141.32px;background:#6aa84f">50.4%</div>
<div class="abs bar" style="top:805.7px;left:450.32px;width:127.02px">45.3%</div>
<div class="abs small" style="top:805.7px;left:568.37px">4.3%</div>
<svg class="abs" style="left:594px;top:806.7px" width="28" height="28" viewBox="0 0 28 28"><circle cx="14" cy="14" r="13.4" fill="#0f9f14" stroke="#7fd77f" stroke-width="1"/><path d="M14 4.6 L21.7 13.5 L19.3 17 L16 12.8 L16 24.1 L12 24.1 L12 12.8 L8.7 17 L6.3 13.5 Z" fill="#f2fff2"/></svg>
<div class="abs cell" style="top:801.02px;height:37.76px">49,1%</div>
<div class="abs cline" style="top:800.52px"></div>
<svg class="abs" style="left:45px;top:839.92px" width="30" height="30" viewBox="0 0 30 30"><defs><clipPath id="c18"><circle cx="15" cy="15" r="14"/></clipPath></defs><g clip-path="url(#c18)"><circle cx="15" cy="15" r="14" fill="#f1f1f1"/><rect x="12.5" y="14" width="5" height="6" fill="#c8a090"/><path d="M1.5 31 Q2 19.5 10 17.5 L15 19.5 L20 17.5 Q28 19.5 28.5 31 Z" fill="#2a2a3a"/><path d="M11 18.2 L15 28 L19 18.2 L15 19.8 Z" fill="#e0e0e8"/><ellipse cx="15" cy="11.2" rx="6" ry="7" fill="#c8a090"/><path d="M9 10 Q8.6 3.6 15 3.6 Q21.4 3.6 21 10 Q20 6.5 15 6.5 Q10 6.5 9 10 Z" fill="#3a3030"/></g><circle cx="15" cy="15" r="14.4" fill="none" stroke="#a4abb4" stroke-width="1"/></svg>
<div class="num" style="top:849.72px"><span class="n1">1</span>9.</div>
<div class="name" style="top:846.12px">AXEL KICILLOF</div>
<div class="prov" style="top:860.22px">PROV. BUENOS AIRES</div>
<div class="abs" style="top:843.5px;left:309px;width:280.4px;height:29.6px;background:#a4a4a4"></div>
<div class="abs" style="top:843.5px;left:309px;width:271.15px;height:29.6px;background:#cf0000"></div>
<div class="abs bar" style="top:843.5px;left:309px;width:138.24px;background:#6aa84f">49.3%</div>
<div class="abs bar" style="top:843.5px;left:447.24px;width:132.91px">47.4%</div>
<div class="abs small" style="top:843.5px;left:569.77px">3.3%</div>
<svg class="abs" style="left:594px;top:844.5px" width="28" height="28" viewBox="0 0 28 28"><circle cx="14" cy="14" r="13.4" fill="#0f9f14" stroke="#7fd77f" stroke-width="1"/><path d="M14 4.6 L21.7 13.5 L19.3 17 L16 12.8 L16 24.1 L12 24.1 L12 12.8 L8.7 17 L6.3 13.5 Z" fill="#f2fff2"/></svg>
<div class="abs cell" style="top:838.78px;height:37.76px">46,4%</div>
<div class="abs cline" style="top:838.28px"></div>
<svg class="abs" style="left:45px;top:877.51px" width="30" height="30" viewBox="0 0 30 30"><defs><clipPath id="c19"><circle cx="15" cy="15" r="14"/></clipPath></defs><g clip-path="url(#c19)"><rect x="12.5" y="14" width="5" height="6" fill="#b09080"/><path d="M1.5 31 Q2 19.5 10 17.5 L15 19.5 L20 17.5 Q28 19.5 28.5 31 Z" fill="#5a5a5a"/><path d="M11 18.2 L15 28 L19 18.2 L15 19.8 Z" fill="#202020"/><ellipse cx="15" cy="11.2" rx="6" ry="7" fill="#b09080"/><path d="M9 10 Q8.6 3.6 15 3.6 Q21.4 3.6 21 10 Q20 6.5 15 6.5 Q10 6.5 9 10 Z" fill="#707070"/></g></svg>
<div class="num" style="top:887.31px">20.</div>
<div class="name" style="top:883.71px">JORGE MACRI</div>
<div class="prov" style="top:897.81px">CABA</div>
<div class="abs" style="top:881.3px;left:309px;width:280.4px;height:29.6px;background:#a4a4a4"></div>
<div class="abs" style="top:881.3px;left:309px;width:272.27px;height:29.6px;background:#cf0000"></div>
<div class="abs bar" style="top:881.3px;left:309px;width:136.55px;background:#6aa84f">48.7%</div>
<div class="abs bar" style="top:881.3px;left:445.55px;width:135.71px">48.4%</div>
<div class="abs small" style="top:881.3px;left:570.33px">2.9%</div>
<svg class="abs" style="left:594px;top:882.3px" width="28" height="28" viewBox="0 0 28 28"><circle cx="14" cy="14" r="13.4" fill="#e00000" stroke="#f59a9a" stroke-width="1"/><path d="M14 23.3 L21.7 13.8 L18.6 11.2 L16 14.8 L16 5 L12 5 L12 14.8 L9.4 11.2 L6.3 13.8 Z" fill="#fff4f4"/></svg>
<div class="abs cell" style="top:876.54px;height:37.76px">49,6%</div>
<div class="abs cline" style="top:876.04px"></div>
<svg class="abs" style="left:45px;top:915.1px" width="30" height="30" viewBox="0 0 30 30"><defs><clipPath id="c20"><circle cx="15" cy="15" r="14"/></clipPath></defs><g clip-path="url(#c20)"><circle cx="15" cy="15" r="14" fill="#f1f1f1"/><rect x="12.5" y="14" width="5" height="6" fill="#c8a080"/><path d="M1.5 31 Q2 19.5 10 17.5 L15 19.5 L20 17.5 Q28 19.5 28.5 31 Z" fill="#d8d0d0"/><path d="M11 18.2 L15 28 L19 18.2 L15 19.8 Z" fill="#e8e0e0"/><ellipse cx="15" cy="11.2" rx="6" ry="7" fill="#c8a080"/><path d="M9 10 Q8.6 3.6 15 3.6 Q21.4 3.6 21 10 Q20 6.5 15 6.5 Q10 6.5 9 10 Z" fill="#2a2020"/></g><circle cx="15" cy="15" r="14.4" fill="none" stroke="#a4abb4" stroke-width="1"/></svg>
<div class="num" style="top:924.9px">2<span class="n1">1</span>.</div>
<div class="name" style="top:921.3px">GUSTAVO SÁENZ</div>
<div class="prov" style="top:935.4px">SALTA</div>
<div class="abs" style="top:919.1px;left:309px;width:280.4px;height:29.6px;background:#a4a4a4"></div>
<div class="abs" style="top:919.1px;left:309px;width:270.59px;height:29.6px;background:#cf0000"></div>
<div class="abs bar" style="top:919.1px;left:309px;width:133.75px;background:#6aa84f">47.7%</div>
<div class="abs bar" style="top:919.1px;left:442.75px;width:136.84px">48.8%</div>
<div class="abs small" style="top:919.1px;left:569.49px">3.5%</div>
<svg class="abs" style="left:594px;top:920.1px" width="28" height="28" viewBox="0 0 28 28"><circle cx="14" cy="14" r="13.4" fill="#0f9f14" stroke="#7fd77f" stroke-width="1"/><path d="M14 4.6 L21.7 13.5 L19.3 17 L16 12.8 L16 24.1 L12 24.1 L12 12.8 L8.7 17 L6.3 13.5 Z" fill="#f2fff2"/></svg>
<div class="abs cell" style="top:914.3px;height:37.76px">45,0%</div>
<div class="abs cline" style="top:913.8px"></div>
<svg class="abs" style="left:45px;top:952.69px" width="30" height="30" viewBox="0 0 30 30"><defs><clipPath id="c21"><circle cx="15" cy="15" r="14"/></clipPath></defs><g clip-path="url(#c21)"><circle cx="15" cy="15" r="14" fill="#f1f1f1"/><rect x="12.5" y="14" width="5" height="6" fill="#d0a890"/><path d="M1.5 31 Q2 19.5 10 17.5 L15 19.5 L20 17.5 Q28 19.5 28.5 31 Z" fill="#2a3a7a"/><path d="M11 18.2 L15 28 L19 18.2 L15 19.8 Z" fill="#c0d0f0"/><ellipse cx="15" cy="11.2" rx="6" ry="7" fill="#d0a890"/><path d="M9 10 Q8.6 3.6 15 3.6 Q21.4 3.6 21 10 Q20 6.5 15 6.5 Q10 6.5 9 10 Z" fill="#909090"/></g><circle cx="15" cy="15" r="14.4" fill="none" stroke="#a4abb4" stroke-width="1"/></svg>
<div class="num" style="top:962.49px">22.</div>
<div class="name" style="top:958.89px">ROLANDO FIGUEROA</div>
<div class="prov" style="top:972.99px">NEUQUÉN</div>
<div class="abs" style="top:956.9px;left:309px;width:280.4px;height:29.6px;background:#a4a4a4"></div>
<div class="abs" style="top:956.9px;left:309px;width:263.86px;height:29.6px;background:#cf0000"></div>
<div class="abs bar" style="top:956.9px;left:309px;width:133.19px;background:#6aa84f">47.5%</div>
<div class="abs bar" style="top:956.9px;left:442.19px;width:130.67px">46.6%</div>
<div class="abs small" style="top:956.9px;left:566.13px">5.9%</div>
<svg class="abs" style="left:594px;top:957.9px" width="28" height="28" viewBox="0 0 28 28"><circle cx="14" cy="14" r="13.4" fill="#e00000" stroke="#f59a9a" stroke-width="1"/><path d="M14 23.3 L21.7 13.8 L18.6 11.2 L16 14.8 L16 5 L12 5 L12 14.8 L9.4 11.2 L6.3 13.8 Z" fill="#fff4f4"/></svg>
<div class="abs cell" style="top:952.06px;height:37.76px">50,9%</div>
<div class="abs cline" style="top:951.56px"></div>
<svg class="abs" style="left:45px;top:990.28px" width="30" height="30" viewBox="0 0 30 30"><defs><clipPath id="c22"><circle cx="15" cy="15" r="14"/></clipPath></defs><g clip-path="url(#c22)"><circle cx="15" cy="15" r="14" fill="#f1f1f1"/><rect x="12.5" y="14" width="5" height="6" fill="#d0a080"/><path d="M1.5 31 Q2 19.5 10 17.5 L15 19.5 L20 17.5 Q28 19.5 28.5 31 Z" fill="#e0e0e8"/><path d="M11 18.2 L15 28 L19 18.2 L15 19.8 Z" fill="#f0f0f4"/><ellipse cx="15" cy="11.2" rx="6" ry="7" fill="#d0a080"/><path d="M9 10 Q8.6 3.6 15 3.6 Q21.4 3.6 21 10 Q20 6.5 15 6.5 Q10 6.5 9 10 Z" fill="#5a4a30"/></g><circle cx="15" cy="15" r="14.4" fill="none" stroke="#a4abb4" stroke-width="1"/></svg>
<div class="num" style="top:1000.08px">23.</div>
<div class="name" style="top:996.48px">RICARDO QUINTELA</div>
<div class="prov" style="top:1010.58px">LA RIOJA</div>
<div class="abs" style="top:994.7px;left:309px;width:280.4px;height:29.6px;background:#a4a4a4"></div>
<div class="abs" style="top:994.7px;left:309px;width:267.5px;height:29.6px;background:#cf0000"></div>
<div class="abs bar" style="top:994.7px;left:309px;width:127.86px;background:#6aa84f">45.6%</div>
<div class="abs bar" style="top:994.7px;left:436.86px;width:139.64px">49.8%</div>
<div class="abs small" style="top:994.7px;left:567.95px">4.6%</div>
<svg class="abs" style="left:594px;top:995.7px" width="28" height="28" viewBox="0 0 28 28"><circle cx="14" cy="14" r="13.4" fill="#0f9f14" stroke="#7fd77f" stroke-width="1"/><path d="M14 4.6 L21.7 13.5 L19.3 17 L16 12.8 L16 24.1 L12 24.1 L12 12.8 L8.7 17 L6.3 13.5 Z" fill="#f2fff2"/></svg>
<div class="abs cell" style="top:989.82px;height:37.76px">44,5%</div>
<div class="abs cline" style="top:989.32px"></div>
<svg class="abs" style="left:45px;top:1027.87px" width="30" height="30" viewBox="0 0 30 30"><defs><clipPath id="c23"><circle cx="15" cy="15" r="14"/></clipPath></defs><g clip-path="url(#c23)"><circle cx="15" cy="15" r="14" fill="#f1f1f1"/><rect x="12.5" y="14" width="5" height="6" fill="#c09070"/><path d="M1.5 31 Q2 19.5 10 17.5 L15 19.5 L20 17.5 Q28 19.5 28.5 31 Z" fill="#2a3a3a"/><path d="M11 18.2 L15 28 L19 18.2 L15 19.8 Z" fill="#e0e8f0"/><ellipse cx="15" cy="11.2" rx="6" ry="7" fill="#c09070"/><path d="M9 10 Q8.6 3.6 15 3.6 Q21.4 3.6 21 10 Q20 6.5 15 6.5 Q10 6.5 9 10 Z" fill="#2a2020"/></g><circle cx="15" cy="15" r="14.4" fill="none" stroke="#a4abb4" stroke-width="1"/></svg>
<div class="num" style="top:1037.67px">24.</div>
<div class="name" style="top:1034.07px">ALBERTO WERETILNECK</div>
<div class="prov" style="top:1048.17px">RÍO NEGRO</div>
<div class="abs" style="top:1032.5px;left:309px;width:280.4px;height:29.6px;background:#a4a4a4"></div>
<div class="abs" style="top:1032.5px;left:309px;width:270.87px;height:29.6px;background:#cf0000"></div>
<div class="abs bar" style="top:1032.5px;left:309px;width:124.5px;background:#6aa84f">44.4%</div>
<div class="abs bar" style="top:1032.5px;left:433.5px;width:146.37px">52.2%</div>
<div class="abs small" style="top:1032.5px;left:569.63px">3.4%</div>
<svg class="abs" style="left:594px;top:1033.5px" width="28" height="28" viewBox="0 0 28 28"><circle cx="14" cy="14" r="13.4" fill="#e00000" stroke="#f59a9a" stroke-width="1"/><path d="M14 23.3 L21.7 13.8 L18.6 11.2 L16 14.8 L16 5 L12 5 L12 14.8 L9.4 11.2 L6.3 13.8 Z" fill="#fff4f4"/></svg>
<div class="abs cell" style="top:1027.58px;height:37.76px">45,2%</div>
<div class="abs cline" style="top:1027.08px"></div>
<div class="abs" style="left:0;top:1066px;width:679px;height:67px;background:#f2f3f6"></div>
<div class="foot"></div>
<div class="brand" style="left:12.5px;top:1087.5px;color:#e6e6e6;font-size:14.6px;letter-spacing:-0.5px">CBCONSULTORAOK</div>
<svg class="abs" style="left:156px;top:1087px" width="20.5" height="20.5" viewBox="0 0 24 24"><path fill="#3d8fe0" d="M12 0.5l2.6 2 3.2-.4 1.2 3 3 1.2-.4 3.2 2 2.6-2 2.6.4 3.2-3 1.2-1.2 3-3.2-.4-2.6 2-2.6-2-3.2.4-1.2-3-3-1.2.4-3.2-2-2.6 2-2.6-.4-3.2 3-1.2 1.2-3 3.2.4z"/><path d="M7 12.3l3.3 3.3 6.5-6.8" fill="none" stroke="#fff" stroke-width="2.4"/></svg>
<div class="brand" style="left:423.5px;top:1087.5px;color:#e6e6e6;font-size:14.4px">WWW.<b style="color:#fff">CBCONSULTORAOP</b>.COM</div>
<svg class="abs" style="left:396px;top:1082px" width="26" height="31" viewBox="0 0 26 31"><circle cx="10" cy="5.8" r="4.6" fill="none" stroke="#555" stroke-width="1.4"/><path d="M8.5 18 L8.5 5.5 Q8.5 3.8 10 3.8 Q11.5 3.8 11.5 5.5 L11.5 13 Q11.5 11.6 13 11.6 Q14.5 11.6 14.5 13 L14.5 14 Q14.5 12.6 16 12.6 Q17.5 12.6 17.5 14 L17.5 15 Q17.5 13.6 19 13.6 Q20.5 13.6 20.5 15 L20.5 22 Q20.5 28 15 28 L12 28 Q9 28 7 25 L3.5 19.5 Q2.5 17.5 4.5 17 Q6 16.8 8.5 20" fill="none" stroke="#c8c8c8" stroke-width="1.3" stroke-linejoin="round"/></svg>
</body></html>
